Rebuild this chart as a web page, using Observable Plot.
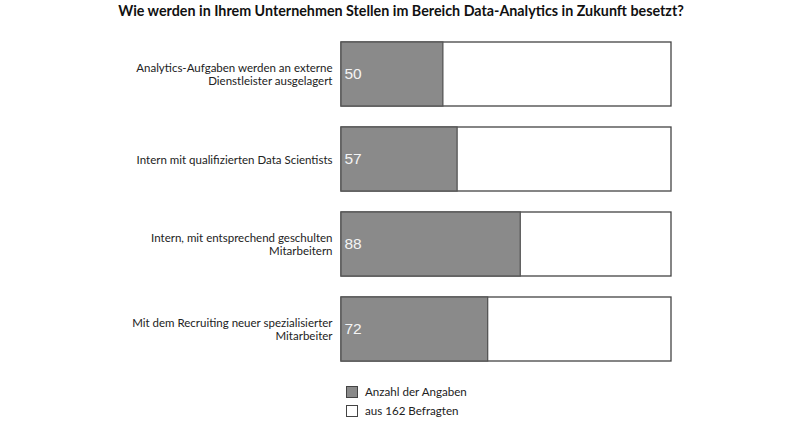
<!DOCTYPE html>
<html>
<head>
<meta charset="utf-8">
<script src="https://cdn.jsdelivr.net/npm/d3@7"></script>
<script src="https://cdn.jsdelivr.net/npm/@observablehq/plot@0.6"></script>
<style>
  html, body { margin: 0; padding: 0; background: #fff; }
  #wrap { position: relative; width: 800px; height: 427px; overflow: hidden; font-family: Lato, "Liberation Sans", sans-serif; color: #222; }
  #title { position: absolute; top: 2px; left: 0; width: 802px; text-align: center; font-weight: bold; font-size: 14.3px; color: #111; }
  #chart { position: absolute; top: 28px; left: 0; }
  .leg { position: absolute; left: 346px; font-size: 11.6px; color: #222; display: flex; align-items: center; }
  .sw { width: 10px; height: 10px; border: 1px solid #444; margin-right: 7px; box-sizing: content-box; }
</style>
</head>
<body>
<div id="wrap">
  <div id="title">Wie werden in Ihrem Unternehmen Stellen im Bereich Data-Analytics in Zukunft besetzt?</div>
  <div id="chart"></div>
  <div class="leg" style="top:385px"><div class="sw" style="background:#8a8a8a"></div><span>Anzahl der Angaben</span></div>
  <div class="leg" style="top:404px"><div class="sw" style="background:#fff"></div><span>aus 162 Befragten</span></div>
</div>
<script>
const categories = [
  "Analytics-Aufgaben werden an externe\nDienstleister ausgelagert",
  "Intern mit qualifizierten Data Scientists",
  "Intern, mit entsprechend geschulten\nMitarbeitern",
  "Mit dem Recruiting neuer spezialisierter\nMitarbeiter"
];
const answers = [50, 57, 88, 72];
const total = 162;

const data = categories.map((c, i) => ({category: c, value: answers[i], total}));

const chart = Plot.plot({
  width: 800,
  height: 345,
  marginLeft: 341,
  marginRight: 129,
  marginTop: 12,
  marginBottom: 10,
  x: {domain: [0, total], axis: null},
  y: {domain: categories, axis: null, paddingInner: 0.244, paddingOuter: 0},
  style: {fontFamily: "Lato, 'Liberation Sans', sans-serif"},
  marks: [
    Plot.barX(data, {y: "category", x1: 0, x2: "total", fill: "#fff", stroke: "#444", strokeWidth: 1.3}),
    Plot.barX(data, {y: "category", x1: 0, x2: "value", fill: "#8a8a8a", stroke: "#555", strokeWidth: 1.3}),
    Plot.text(data, {y: "category", x: 0, text: "category", textAnchor: "end", dx: -9, fontSize: 11.5, lineHeight: 1.15, fill: "#222"}),
    Plot.text(data, {y: "category", x: 0, text: d => String(d.value), textAnchor: "start", dx: 3, fontSize: 15.5, fill: "#f4f4f4", fontFamily: "'Liberation Sans', Arial, sans-serif"})
  ]
});
document.getElementById("chart").appendChild(chart);
</script>
</body>
</html>
